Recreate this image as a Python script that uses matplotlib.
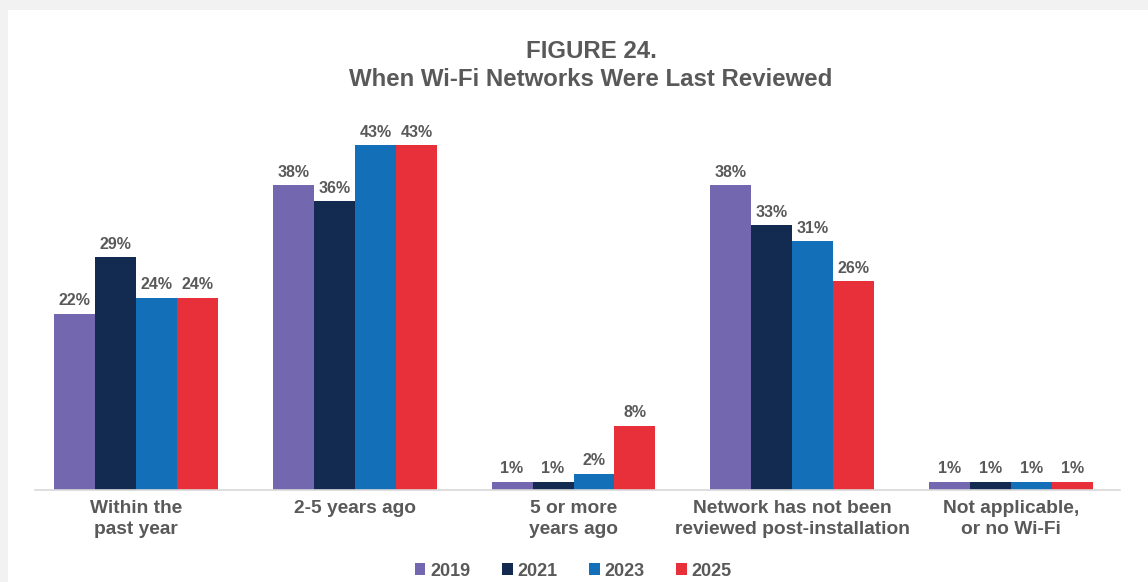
import matplotlib
matplotlib.use("Agg")
import matplotlib.pyplot as plt
import numpy as np
from matplotlib.patches import Rectangle

plt.rcParams['font.family'] = ['Liberation Sans', 'DejaVu Sans']

categories = ["Within the\npast year", "2-5 years ago", "5 or more\nyears ago",
              "Network has not been\nreviewed post-installation", "Not applicable,\nor no Wi-Fi"]
years = ["2019", "2021", "2023", "2025"]
v2019 = [22, 38, 1, 38, 1]
v2021 = [29, 36, 1, 33, 1]
v2023 = [24, 43, 2, 31, 1]
v2025 = [24, 43, 8, 26, 1]
series = [v2019, v2021, v2023, v2025]
colors = ["#7367AF", "#132B50", "#1370B8", "#E8303A"]
grey = "#595959"

W, H = 1148, 582
fig = plt.figure(figsize=(W/100, H/100), dpi=100)
fig.patch.set_facecolor("#F2F2F2")
card = Rectangle((8/W, 0), 1 - 8/W, 1 - 10/H, transform=fig.transFigure,
                 facecolor="white", edgecolor="none", zorder=-5)
fig.patches.append(card)

left, right = 27, 1120
bottom, top = 490, 130
ax = fig.add_axes([left/W, 1 - bottom/H, (right-left)/W, (bottom-top)/H])
ax.set_facecolor("none")
ax.set_zorder(2)

n = len(categories)
x = np.arange(n)
bw = 0.75/4
for i, (vals, c, y) in enumerate(zip(series, colors, years)):
    pos = x + (i - 1.5)*bw
    ax.bar(pos, vals, width=bw, color=c, label=y, zorder=2)
    for p, v in zip(pos, vals):
        ax.text(p, v + 0.7, f"{v}%", ha="center", va="bottom", fontsize=11.5,
                fontweight="bold", color=grey)

ax.set_xlim(-0.5, n - 0.5)
ax.set_ylim(0, (bottom-top)/8.02)
for s in ["top", "right", "left"]:
    ax.spines[s].set_visible(False)
ax.spines["bottom"].set_color("#D9D9D9")
ax.spines["bottom"].set_linewidth(1.2)
ax.spines["bottom"].set_bounds(-0.465, n - 0.5)
ax.set_yticks([])
ax.set_xticks(x)
ax.set_xticklabels(categories, fontsize=13.8, fontweight="bold", color=grey, linespacing=1.35)
ax.tick_params(axis="x", length=0, pad=7)

fig.text(591/W, 1 - 52/H, "FIGURE 24.", ha="center", va="center", fontsize=17.3,
         fontweight="bold", color=grey)
fig.text(591/W, 1 - 79/H, "When Wi-Fi Networks Were Last Reviewed", ha="center",
         va="center", fontsize=17.3, fontweight="bold", color=grey)

leg = fig.legend(loc="center", bbox_to_anchor=(573/W, 1 - 571/H), ncol=4, frameon=False,
                 fontsize=13, handlelength=0.6, handleheight=0.6, handletextpad=0.25,
                 columnspacing=1.75)
for t in leg.get_texts():
    t.set_color(grey)
    t.set_fontweight("bold")

fig.savefig("out.png", dpi=100, facecolor=fig.get_facecolor())
